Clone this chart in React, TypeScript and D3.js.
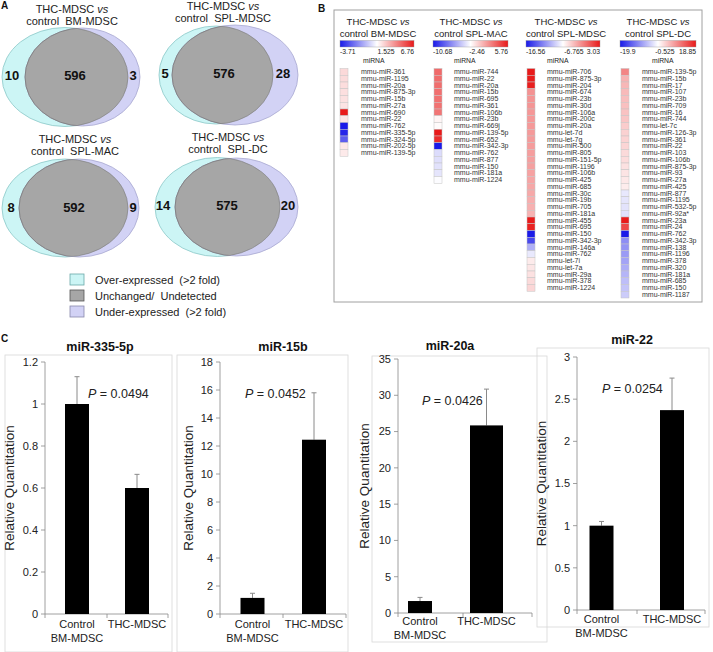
import React from "react";
import * as d3 from "d3";

// ---------- Panel A data ----------
const vennComparisons = ["control  BM-MDSC", "control  SPL-MDSC", "control  SPL-MAC", "control  SPL-DC"];
const vennOver = [10, 5, 8, 14];
const vennUnchanged = [596, 576, 592, 575];
const vennUnder = [3, 28, 9, 20];
const legendLabels = ["Over-expressed  (>2 fold)", "Unchanged/  Undetected", "Under-expressed  (>2 fold)"];

// ---------- Panel B data ----------
const heatTitles = ["control BM-MDSC", "control SPL-MAC", "control SPL-MDSC", "control SPL-DC"];
const heatDomainBM = [-3.71, 1.525, 6.76];
const heatDomainMAC = [-10.68, -2.46, 5.76];
const heatDomainMDSC = [-16.56, -6.765, 3.03];
const heatDomainDC = [-19.9, -0.525, 18.85];

const mirBM = ["mmu-miR-361", "mmu-miR-1195", "mmu-miR-20a", "mmu-miR-875-3p", "mmu-miR-15b", "mmu-miR-27a", "mmu-miR-690", "mmu-miR-22", "mmu-miR-762", "mmu-miR-335-5p", "mmu-miR-324-5p", "mmu-miR-202-5p", "mmu-miR-139-5p"];
const valBM = [2.4, 2.35, 2.3, 2.25, 2.2, 2.15, 6.76, 2.1, -3.71, -3.45, -2.2, 2.05, 2.0];

const mirMAC = ["mmu-miR-744", "mmu-miR-22", "mmu-miR-20a", "mmu-miR-15b", "mmu-miR-695", "mmu-miR-361", "mmu-miR-106b", "mmu-miR-23b", "mmu-miR-669j", "mmu-miR-139-5p", "mmu-miR-652", "mmu-miR-342-3p", "mmu-miR-762", "mmu-miR-877", "mmu-miR-150", "mmu-miR-181a", "mmu-miR-1224"];
const valMAC = [2.9, 2.8, 2.75, 2.7, 2.65, 2.6, 2.5, -2.1, -2.3, 5.76, 5.1, -10.68, -3.7, -3.6, -3.5, -3.4, -2.55];

const mirMDSC = ["mmu-miR-706", "mmu-miR-875-3p", "mmu-miR-204", "mmu-miR-674", "mmu-miR-23b", "mmu-miR-30d", "mmu-miR-106a", "mmu-miR-200c", "mmu-miR-20a", "mmu-let-7d", "mmu-let-7g", "mmu-miR-500", "mmu-miR-805", "mmu-miR-151-5p", "mmu-miR-1196", "mmu-miR-106b", "mmu-miR-425", "mmu-miR-685", "mmu-miR-30c", "mmu-miR-19b", "mmu-miR-705", "mmu-miR-181a", "mmu-miR-455", "mmu-miR-695", "mmu-miR-150", "mmu-miR-342-3p", "mmu-miR-146a", "mmu-miR-762", "mmu-let-7i", "mmu-let-7a", "mmu-miR-29a", "mmu-miR-378", "mmu-miR-1224"];
const valMDSC = [3.03, 2.95, 2.85, -2.1, -2.2, -2.25, -2.3, -2.35, -2.4, -2.45, -2.5, -2.55, -2.6, -2.65, -2.7, -2.8, -2.9, -3.0, -3.1, -3.3, -3.4, -3.5, 2.95, 2.7, -16.56, -14.6, -10.2, -7.7, -5.9, -5.7, -5.5, -5.2, -5.0];

const mirDC = ["mmu-miR-139-5p", "mmu-miR-15b", "mmu-miR-17", "mmu-miR-107", "mmu-miR-23b", "mmu-miR-709", "mmu-miR-16", "mmu-miR-744", "mmu-let-7c", "mmu-miR-126-3p", "mmu-miR-361", "mmu-miR-22", "mmu-miR-103", "mmu-miR-106b", "mmu-miR-875-3p", "mmu-miR-93", "mmu-miR-27a", "mmu-miR-425", "mmu-miR-877", "mmu-miR-1195", "mmu-miR-532-5p", "mmu-miR-92a*", "mmu-miR-23a", "mmu-miR-24", "mmu-miR-762", "mmu-miR-342-3p", "mmu-miR-138", "mmu-miR-1196", "mmu-miR-378", "mmu-miR-320", "mmu-miR-181a", "mmu-miR-685", "mmu-miR-150", "mmu-miR-1187"];
const valDC = [9.8, 6.0, 5.6, 5.3, 5.0, 4.8, 4.6, 4.4, 3.8, 3.4, 3.2, 3.0, 2.6, 2.4, 2.0, 1.8, 1.4, 1.1, -2.5, -2.7, -2.9, -3.1, 18.85, 15.0, -19.9, -10.2, -9.6, -9.0, -8.3, -7.5, -6.8, -6.0, -5.5, -4.8];

// ---------- Panel C data ----------
const qpcrCategories = ["Control BM-MDSC", "THC-MDSC"];
const qpcrTitles = ["miR-335-5p", "miR-15b", "miR-20a", "miR-22"];
const qpcrMeans = [[1.0, 0.6], [1.15, 12.45], [1.65, 25.85], [1.0, 2.37]];
const qpcrErrors = [[0.13, 0.065], [0.33, 3.35], [0.5, 5.0], [0.05, 0.38]];
const qpcrPValues = ["0.0494", "0.0452", "0.0426", "0.0254"];
const qpcrYMax = [1.2, 18, 35, 3];
const qpcrYStep = [0.2, 2, 5, 0.5];

const FONT = "Liberation Sans, Arial, Helvetica, sans-serif";
const TXT = "#222";

const heatSets = [
  { labels: mirBM, values: valBM, domain: heatDomainBM },
  { labels: mirMAC, values: valMAC, domain: heatDomainMAC },
  { labels: mirMDSC, values: valMDSC, domain: heatDomainMDSC },
  { labels: mirDC, values: valDC, domain: heatDomainDC },
];

function Venn({ i, g }: { i: number; g: any }) {
  const id = `venn-clip-${i}`;
  return (
    <g>
      <defs>
        <clipPath id={id}>
          <ellipse cx={g.c[0]} cy={g.c[1]} rx={g.c[2]} ry={g.c[3]} />
        </clipPath>
        <clipPath id={`${id}-p`}>
          <ellipse cx={g.p[0]} cy={g.p[1]} rx={g.p[2]} ry={g.p[3]} />
        </clipPath>
      </defs>
      <text x={g.tx} y={g.ty} textAnchor="middle" fontFamily={FONT} fontSize={11} fill={TXT}>
        THC-MDSC <tspan fontStyle="italic">vs</tspan>
      </text>
      <text x={g.tx} y={g.ty + 12} textAnchor="middle" fontFamily={FONT} fontSize={11} fill={TXT} style={{ whiteSpace: "pre" }}>
        {vennComparisons[i]}
      </text>
      <ellipse cx={g.c[0]} cy={g.c[1]} rx={g.c[2]} ry={g.c[3]} fill="#ccf5f5" stroke="#8cc8c8" strokeWidth={0.8} />
      <ellipse cx={g.p[0]} cy={g.p[1]} rx={g.p[2]} ry={g.p[3]} fill="#d2d2f5" stroke="#a8a8d0" strokeWidth={0.8} />
      <ellipse cx={g.p[0]} cy={g.p[1]} rx={g.p[2]} ry={g.p[3]} fill="#a6a6a6" stroke="#7a7a7a" strokeWidth={0.8} clipPath={`url(#${id})`} />
      <ellipse cx={g.c[0]} cy={g.c[1]} rx={g.c[2]} ry={g.c[3]} fill="none" stroke="#7a7a7a" strokeWidth={0.6} clipPath={`url(#${id}-p)`} />
      {[
        [g.nx[0], vennOver[i]],
        [g.nx[1], vennUnchanged[i]],
        [g.nx[2], vennUnder[i]],
      ].map(([x, v], k) => (
        <text key={k} x={x as number} y={g.ny} textAnchor="middle" dominantBaseline="central" fontFamily={FONT} fontWeight="bold" fontSize={13} fill="#111">
          {v}
        </text>
      ))}
    </g>
  );
}

function Heatmap({ i, L }: { i: number; L: any }) {
  const set = heatSets[i];
  const color = d3.scaleLinear<string>().domain(set.domain).range(["#1a1ae8", "#ffffff", "#e81a1a"]).clamp(true);
  const rowH = 6.75;
  const y0 = 68.5;
  const y = d3.scaleLinear().domain([0, 1]).range([y0, y0 + rowH]);
  const gid = `grad-${i}`;
  return (
    <g>
      <defs>
        <linearGradient id={gid} x1="0" x2="1" y1="0" y2="0">
          {[0, 0.5, 1].map((t, k) => (
            <stop key={k} offset={t} stopColor={color(set.domain[k])} />
          ))}
        </linearGradient>
      </defs>
      <text x={L.tcx} y={25} textAnchor="middle" fontFamily={FONT} fontSize={9.5} fill={TXT}>
        THC-MDSC <tspan fontStyle="italic">vs</tspan>
      </text>
      <text x={L.tcx} y={36.5} textAnchor="middle" fontFamily={FONT} fontSize={9.5} fill={TXT}>
        {heatTitles[i]}
      </text>
      <rect x={L.b0} y={40.5} width={L.b1 - L.b0} height={6.5} fill={`url(#${gid})`} stroke="#999" strokeWidth={0.4} />
      <text x={L.b0} y={53.5} fontFamily={FONT} fontSize={6.8} fill={TXT}>{String(set.domain[0])}</text>
      <text x={L.mid} y={53.5} textAnchor="middle" fontFamily={FONT} fontSize={6.8} fill={TXT}>{String(set.domain[1])}</text>
      <text x={L.b1} y={53.5} textAnchor="end" fontFamily={FONT} fontSize={6.8} fill={TXT}>{String(set.domain[2])}</text>
      <text x={L.hx} y={63} fontFamily={FONT} fontSize={6.8} fill={TXT}>miRNA</text>
      {set.values.map((v, j) => (
        <rect key={j} x={L.cx} y={y(j)} width={8} height={rowH} fill={color(v)} stroke="#c4c4c4" strokeWidth={0.5} />
      ))}
      {set.labels.map((s, j) => (
        <text key={j} x={L.lx} y={y(j) + 5.6} fontFamily={FONT} fontSize={7} fill="#333">{s}</text>
      ))}
    </g>
  );
}

function BarChart({ i, L }: { i: number; L: any }) {
  const yMax = qpcrYMax[i];
  const step = qpcrYStep[i];
  const y = d3.scaleLinear().domain([0, yMax]).range([L.yb, L.yt]);
  const x = d3.scalePoint<string>().domain(qpcrCategories).range(L.cr);
  const ticks = d3.range(0, yMax + step / 2, step);
  const tickFmt = (v: number) => String(+v.toFixed(2));
  const c0 = x(qpcrCategories[0]) as number;
  const c1 = x(qpcrCategories[1]) as number;
  const parts = qpcrCategories[0].split(" ");
  return (
    <g fontFamily={FONT}>
      <rect x={L.f[0]} y={L.f[1]} width={L.f[2]} height={L.f[3]} fill="none" stroke="#d8d8d8" strokeWidth={0.8} />
      <text x={L.tx} y={L.ty} textAnchor="middle" fontWeight="bold" fontSize={12.5} fill="#111">{qpcrTitles[i]}</text>
      <line x1={L.ax} x2={L.ax} y1={L.yt} y2={L.yb} stroke="#888" strokeWidth={0.8} />
      <line x1={L.ax} x2={L.ae} y1={L.yb} y2={L.yb} stroke="#888" strokeWidth={0.8} />
      {ticks.map((t, k) => (
        <g key={k}>
          <line x1={L.ax - 4} x2={L.ax} y1={y(t)} y2={y(t)} stroke="#888" strokeWidth={0.8} />
          <text x={L.ax - 7} y={y(t)} dy="0.35em" textAnchor="end" fontSize={11} fill={TXT}>{tickFmt(t)}</text>
        </g>
      ))}
      {[L.ax, L.mt, L.ae].map((tx, k) => (
        <line key={k} x1={tx} x2={tx} y1={L.yb} y2={L.yb + 4} stroke="#888" strokeWidth={0.8} />
      ))}
      {qpcrCategories.map((c, k) => {
        const cx = x(c) as number;
        const w = L.bw[k];
        const m = qpcrMeans[i][k];
        const e = qpcrErrors[i][k];
        return (
          <g key={c}>
            <line x1={cx} x2={cx} y1={y(m)} y2={y(m + e)} stroke="#8a8a8a" strokeWidth={1} />
            <line x1={cx - 2.5} x2={cx + 2.5} y1={y(m + e)} y2={y(m + e)} stroke="#8a8a8a" strokeWidth={1} />
            <rect x={cx - w / 2} y={y(m)} width={w} height={L.yb - y(m)} fill="#000" />
          </g>
        );
      })}
      <g fontSize={11} fill={TXT} textAnchor="middle">
        <text x={c0} y={L.xl}>{parts[0]}</text>
        <text x={c0} y={L.xl + 13.5}>{parts[1]}</text>
        <text x={c1} y={L.xl}>{qpcrCategories[1]}</text>
      </g>
      <text x={L.px} y={L.py} fontSize={12.5} fill={TXT}>
        <tspan fontStyle="italic">P</tspan> = {qpcrPValues[i]}
      </text>
      <text transform={`translate(${L.ylx},${(L.yt + L.yb) / 2}) rotate(-90)`} dy="0.35em" textAnchor="middle" fontSize={13.5} fill={TXT}>
        Relative Quantitation
      </text>
    </g>
  );
}

export default function App() {
  const vennGeo = [
    { c: [65, 77, 63, 49.5], p: [82.5, 77, 57.5, 49], tx: 72, ty: 13, nx: [12, 75, 133], ny: 75 },
    { c: [216, 75, 57, 49], p: [235, 75, 63, 50], tx: 223, ty: 10, nx: [165, 224, 283], ny: 73 },
    { c: [65, 208, 63, 49], p: [79, 208, 60, 49], tx: 75, ty: 143, nx: [11, 74, 133], ny: 207 },
    { c: [217.5, 207, 62.5, 49.5], p: [236.5, 207, 61.5, 49], tx: 228, ty: 141, nx: [163, 227, 288], ny: 205 },
  ];
  const legendFill = [["#ccf5f5", "#6aa8a8"], ["#a6a6a6", "#555"], ["#d2d2f5", "#8888aa"]];
  const heatGeo = [
    { tcx: 378, b0: 340, b1: 414, mid: 386, hx: 363, cx: 340, lx: 361 },
    { tcx: 471, b0: 433, b1: 508, mid: 477, hx: 454, cx: 434, lx: 454 },
    { tcx: 566, b0: 526, b1: 600, mid: 574, hx: 547, cx: 527, lx: 547 },
    { tcx: 658, b0: 620, b1: 696, mid: 665, hx: 652, cx: 621, lx: 642 },
  ];
  const barGeo = [
    { f: [5, 355, 167, 297], ax: 45, ae: 168, mt: 107, cr: [77, 137], yt: 362, yb: 614, tx: 100, ty: 351, px: 88, py: 398, ylx: 9, xl: 628, bw: [24, 24] },
    { f: [177, 355, 171, 297], ax: 220, ae: 346, mt: 283, cr: [252.5, 314], yt: 362, yb: 614, tx: 283, ty: 351, px: 245, py: 398, ylx: 188, xl: 628, bw: [24, 24] },
    { f: [372, 356, 175, 286], ax: 398, ae: 532, mt: 463, cr: [420, 486.5], yt: 359, yb: 613, tx: 450, ty: 350, px: 422, py: 405, ylx: 364, xl: 625, bw: [24, 33] },
    { f: [537, 348, 172, 279], ax: 577, ae: 705, mt: 637, cr: [601.5, 672], yt: 357, yb: 610, tx: 632, ty: 344, px: 602, py: 393, ylx: 541, xl: 623, bw: [24, 24] },
  ];
  return (
    <svg width={713} height={652} style={{ position: "absolute", left: 0, top: 0, background: "#fff" }}>
      <rect width={713} height={652} fill="#fff" />
      <text x={1} y={9} fontFamily={FONT} fontWeight="bold" fontSize={10} fill="#111">A</text>
      {vennGeo.map((g, i) => <Venn key={i} i={i} g={g} />)}
      {legendLabels.map((s, k) => (
        <g key={k}>
          <rect x={70} y={274 + k * 16} width={14} height={11} fill={legendFill[k][0]} stroke={legendFill[k][1]} strokeWidth={0.8} />
          <text x={95} y={283.5 + k * 16} fontFamily={FONT} fontSize={11} fill={TXT} style={{ whiteSpace: "pre" }}>{s}</text>
        </g>
      ))}
      <text x={318} y={12} fontFamily={FONT} fontWeight="bold" fontSize={10} fill="#111">B</text>
      <rect x={334} y={10} width={368} height={292} fill="none" stroke="#a0a0a0" strokeWidth={1} />
      {heatGeo.map((L, i) => <Heatmap key={i} i={i} L={L} />)}
      <text x={1} y={342} fontFamily={FONT} fontWeight="bold" fontSize={10} fill="#111">C</text>
      {barGeo.map((L, i) => <BarChart key={i} i={i} L={L} />)}
    </svg>
  );
}
